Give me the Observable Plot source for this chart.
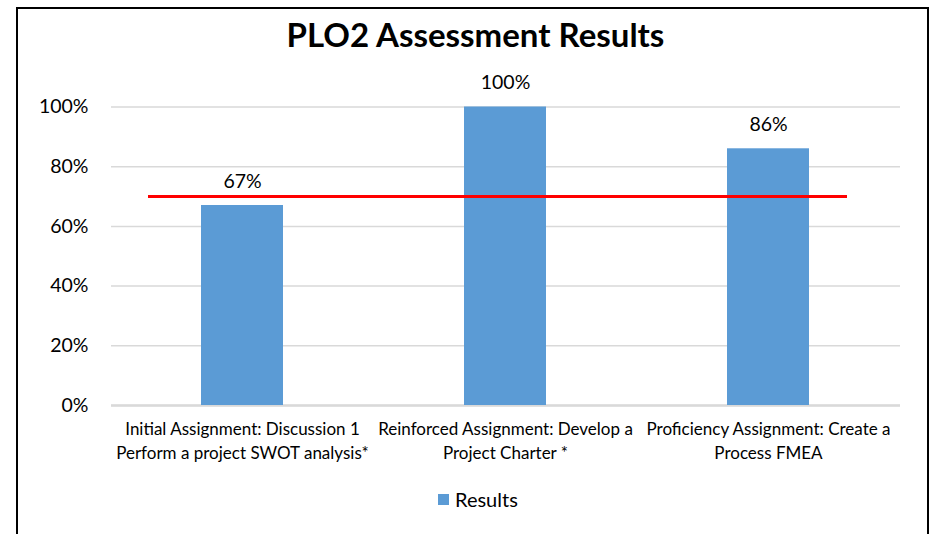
<!DOCTYPE html>
<html>
<head>
<meta charset="utf-8">
<script src="https://cdn.jsdelivr.net/npm/d3@7"></script>
<script src="https://cdn.jsdelivr.net/npm/@observablehq/plot@0.6"></script>
<style>
  html, body { margin: 0; padding: 0; background: #fff; width: 931px; height: 534px; overflow: hidden; }
  body { position: relative; font-family: Lato, "Open Sans", sans-serif; }
  #frame { position: absolute; left: 16px; top: 7px; width: 909px; height: 560px; border: 2px solid #000; box-sizing: content-box; }
  #title { position: absolute; left: 20px; top: 14px; width: 911px; text-align: center; font-weight: bold; font-size: 33px; line-height: 40px; color: #000; }
  #chart { position: absolute; left: 0; top: 60px; }
  #legend { position: absolute; left: 438px; top: 487px; font-size: 20px; color: #000; display: flex; align-items: center; }
  #legend .sw { width: 11px; height: 11px; background: #5b9bd5; margin-right: 6px; }
</style>
</head>
<body>
<div id="frame"></div>
<div id="title">PLO2 Assessment Results</div>
<div id="chart"></div>
<div id="legend"><span class="sw"></span><span>Results</span></div>
<script>
const categories = [
  "Initial Assignment: Discussion 1\nPerform a project SWOT analysis*",
  "Reinforced Assignment: Develop a\nProject Charter *",
  "Proficiency Assignment: Create a\nProcess FMEA"
];
const results = [0.67, 1.00, 0.86];
const target = [0.70];
const yTicks = [0, 0.2, 0.4, 0.6, 0.8, 1.0];

const data = categories.map((c, i) => ({category: c, value: results[i]}));
const pct = d => Math.round(d * 100) + "%";

const chart = Plot.plot({
  width: 931,
  height: 410,
  marginLeft: 111,
  marginRight: 31,
  marginTop: 46.5,
  marginBottom: 65,
  style: {fontFamily: "Lato, 'Open Sans', sans-serif", color: "#000", background: "transparent"},
  x: {domain: categories, paddingInner: 0.688, paddingOuter: 0.344, label: null},
  y: {domain: [0, 1], label: null},
  marks: [
    Plot.gridY(yTicks, {stroke: "#d9d9d9", strokeOpacity: 1, strokeWidth: 1.5}),
    Plot.ruleY([0], {stroke: "#d9d9d9", strokeWidth: 2.5}),
    Plot.barY(data, {x: "category", y: "value", fill: "#5b9bd5"}),
    Plot.ruleY(target, {stroke: "#ff0000", strokeWidth: 3, insetLeft: 37, insetRight: 53}),
    Plot.text(data, {x: "category", y: "value", text: d => pct(d.value), dy: -24, fontSize: 19.5, fill: "#000"}),
    Plot.axisY(yTicks, {tickSize: 0, tickPadding: 23, fontSize: 19.5, tickFormat: pct, label: null}),
    Plot.axisX({tickSize: 0, tickPadding: 13, fontSize: 17, lineHeight: 1.38, label: null})
  ]
});
document.getElementById("chart").appendChild(chart);
</script>
</body>
</html>
